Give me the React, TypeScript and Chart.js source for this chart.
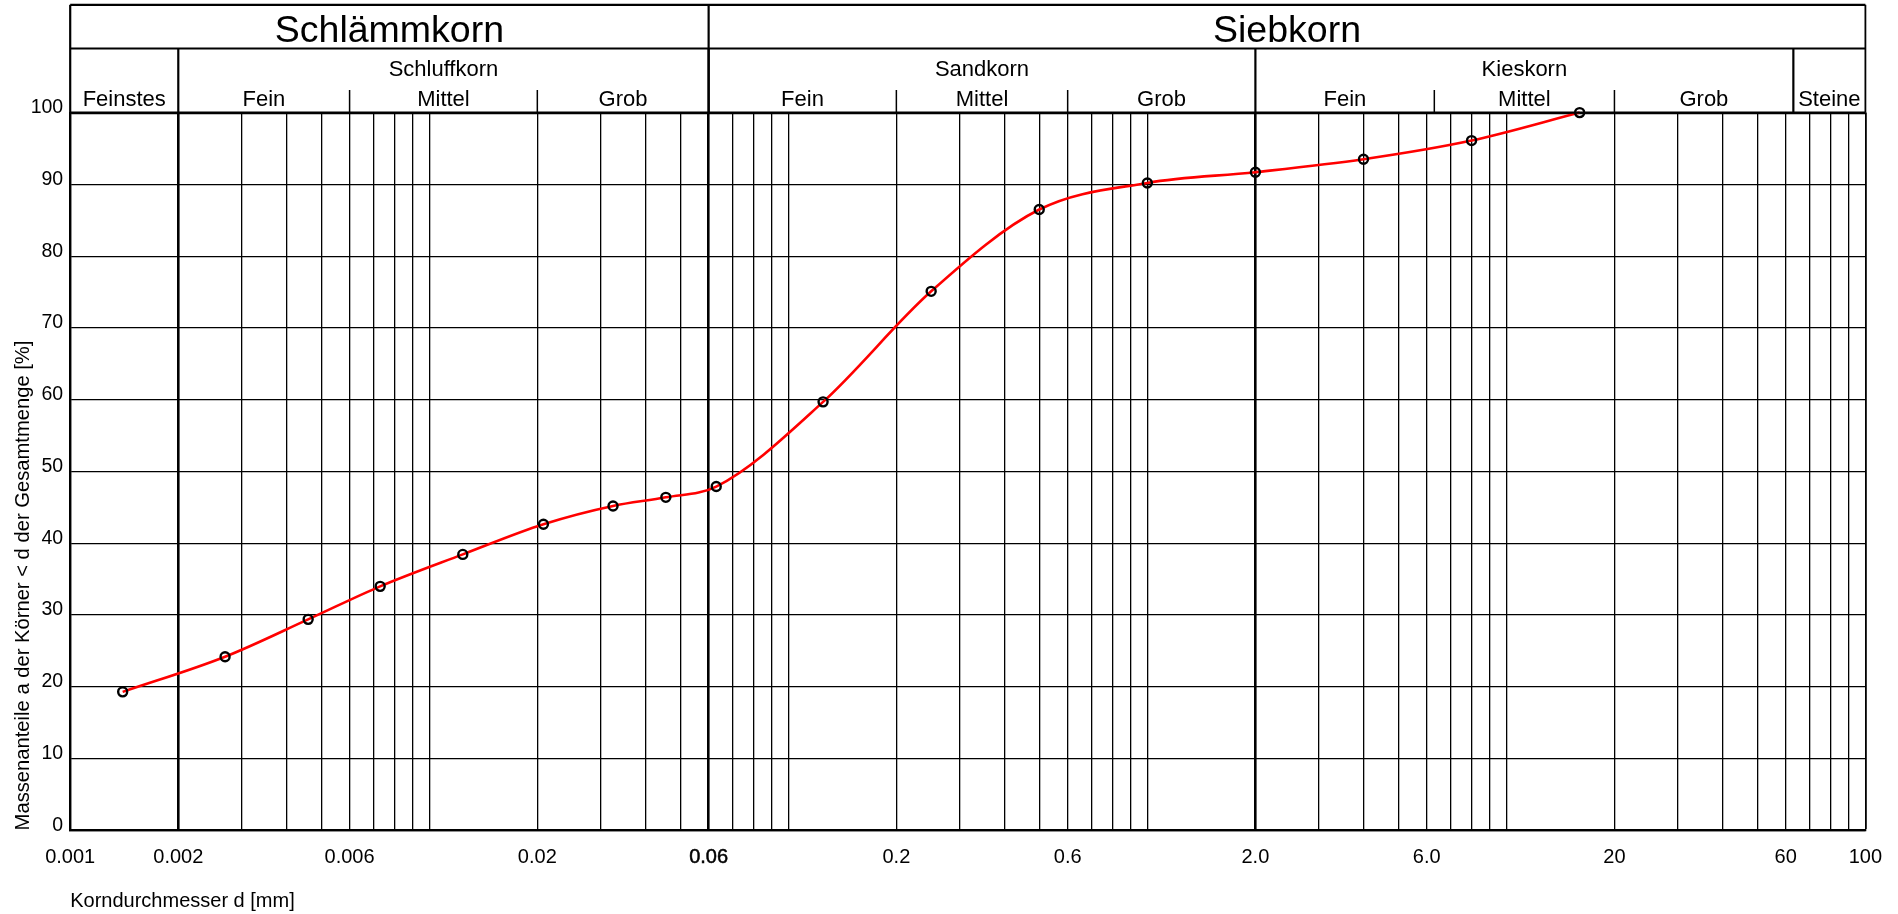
import React, { useEffect, useRef } from "react";
import { Chart, registerables } from "chart.js";

Chart.register(...registerables);

// ---- data ----
const grainSizes = [0.0014, 0.0027, 0.0046, 0.0073, 0.0124, 0.0208, 0.0325, 0.0456, 0.063, 0.125, 0.25, 0.5, 1, 2, 4, 8, 16];
const passingPercent = [19.3, 24.2, 29.4, 34.0, 38.45, 42.65, 45.2, 46.4, 47.9, 59.7, 75.1, 86.5, 90.2, 91.7, 93.5, 96.1, 100];

// ---- axis ticks ----
const xLabelValues = [0.001, 0.002, 0.006, 0.02, 0.06, 0.2, 0.6, 2, 6, 20, 60, 100];
const xLabelTexts = ["0.001", "0.002", "0.006", "0.02", "0.06", "0.2", "0.6", "2.0", "6.0", "20", "60", "100"];
const gridMantissas = [1, 2, 3, 4, 5, 6, 7, 8, 9];
const gridDecades = [-3, -2, -1, 0, 1];
const gridEnd = 100;
const thickGridValues = [0.002, 0.06, 2];

// ---- header (classification) ----
const mainLabels = ["Schlämmkorn", "Siebkorn"];
const mainBounds = [0.001, 0.06, 100];
const groupLabels = ["Schluffkorn", "Sandkorn", "Kieskorn"];
const groupBounds = [[0.002, 0.06], [0.06, 2], [2, 63]];
const singleLabels = ["Feinstes", "Steine"];
const singleBounds = [[0.001, 0.002], [63, 100]];
const subLabels = ["Fein", "Mittel", "Grob"];
const subBounds = [
  [0.002, 0.006, 0.02, 0.06],
  [0.06, 0.2, 0.6, 2],
  [2, 6.3, 20, 63],
];

const FONT = "'Liberation Sans', Arial, Helvetica, sans-serif";

const near = (a: number, b: number) => Math.abs(Math.log10(a) - Math.log10(b)) < 1e-6;

const gridValues: number[] = [];
gridDecades.forEach((e) => gridMantissas.forEach((m) => gridValues.push(Number((m * Math.pow(10, e)).toPrecision(3)))));
gridValues.push(gridEnd);

const headerPlugin = {
  id: "header",
  afterDraw(chart: any) {
    const ctx = chart.ctx as CanvasRenderingContext2D;
    const xs = chart.scales.x;
    const area = chart.chartArea;
    const X = (v: number) => xs.getPixelForValue(v);
    const top = 4.8;
    const mid = 48.4;
    const bottom = area.top;
    const subTop = 90;
    const line = (x1: number, y1: number, x2: number, y2: number, w: number) => {
      ctx.beginPath();
      ctx.lineWidth = w;
      ctx.moveTo(x1, y1);
      ctx.lineTo(x2, y2);
      ctx.stroke();
    };
    ctx.save();
    ctx.strokeStyle = "#000";
    ctx.fillStyle = "#000";
    const L = X(mainBounds[0]);
    const R = X(mainBounds[mainBounds.length - 1]);
    // outer frame
    line(L, top, R, top, 2.2);
    line(L, top, L, bottom, 2.2);
    line(R, top, R, bottom, 1.8);
    line(L, mid, R, mid, 2);
    line(L, bottom, R, bottom, 2.2);
    // main dividers
    for (let i = 1; i < mainBounds.length - 1; i++) line(X(mainBounds[i]), top, X(mainBounds[i]), bottom, 2.2);
    // group dividers
    const divs = new Set<number>();
    groupBounds.forEach((b) => { divs.add(b[0]); divs.add(b[1]); });
    singleBounds.forEach((b) => { divs.add(b[0]); divs.add(b[1]); });
    divs.forEach((v) => {
      if (v !== mainBounds[0] && v !== mainBounds[mainBounds.length - 1]) line(X(v), mid, X(v), bottom, 2.2);
    });
    // sub ticks
    subBounds.forEach((b) => {
      for (let i = 1; i < b.length - 1; i++) line(X(b[i]), subTop, X(b[i]), bottom, 1.5);
    });
    // texts
    ctx.textAlign = "center";
    ctx.textBaseline = "alphabetic";
    ctx.font = `37.5px ${FONT}`;
    mainLabels.forEach((t, i) => ctx.fillText(t, (X(mainBounds[i]) + X(mainBounds[i + 1])) / 2, 41.5));
    ctx.font = `22px ${FONT}`;
    groupLabels.forEach((t, i) => ctx.fillText(t, (X(groupBounds[i][0]) + X(groupBounds[i][1])) / 2, 76));
    singleLabels.forEach((t, i) => ctx.fillText(t, (X(singleBounds[i][0]) + X(singleBounds[i][1])) / 2, 106));
    subBounds.forEach((b) => {
      for (let i = 0; i < b.length - 1; i++) ctx.fillText(subLabels[i], (X(b[i]) + X(b[i + 1])) / 2, 106);
    });
    ctx.restore();
  },
};

export default function App() {
  const ref = useRef<HTMLCanvasElement>(null);
  useEffect(() => {
    if (!ref.current) return;
    const chart = new Chart(ref.current, {
      type: "line",
      data: {
        datasets: [
          {
            data: grainSizes.map((x, i) => ({ x, y: passingPercent[i] })),
            borderColor: "#ff0000",
            borderWidth: 2.6,
            cubicInterpolationMode: "monotone",
            pointRadius: 4.5,
            pointBorderWidth: 2.4,
            pointBorderColor: "#000",
            pointBackgroundColor: "rgba(0,0,0,0)",
            fill: false,
            clip: false as any,
          },
        ],
      },
      options: {
        responsive: false,
        devicePixelRatio: 1,
        animation: false,
        events: [],
        layout: { padding: { left: 0, top: 112.6, right: 32.6, bottom: 0 } },
        plugins: { legend: { display: false }, tooltip: { enabled: false } },
        scales: {
          x: {
            type: "logarithmic",
            min: 0.001,
            max: 100,
            afterFit: (s: any) => { s.height = 914 - 830.4; },
            afterBuildTicks: (s: any) => { s.ticks = gridValues.map((v) => ({ value: v })); },
            grid: {
              color: "#000",
              lineWidth: (c: any) => (c.tick && thickGridValues.some((t) => near(t, c.tick.value)) ? 2.6 : c.tick && near(c.tick.value, 100) ? 1.8 : 1.3),
              drawTicks: false,
            },
            border: { display: true, color: "#000", width: 2.2 },
            ticks: {
              autoSkip: false,
              maxRotation: 0,
              minRotation: 0,
              padding: 15,
              color: "#000",
              font: { family: FONT, size: 20 },
              textStrokeColor: "#000",
              textStrokeWidth: (c: any) => (c.tick && near(c.tick.value, 0.06) ? 0.5 : 0),
              callback: (value: any) => {
                const i = xLabelValues.findIndex((v) => near(v, Number(value)));
                return i >= 0 ? xLabelTexts[i] : "";
              },
            } as any,
            title: {
              display: true,
              text: "Korndurchmesser d [mm]",
              align: "start",
              color: "#000",
              font: { family: FONT, size: 20 },
              padding: { top: 0, bottom: 1 },
            },
          },
          y: {
            type: "linear",
            min: 0,
            max: 100,
            afterFit: (s: any) => { s.width = 70.2; },
            grid: { color: "#000", lineWidth: (c: any) => (c.tick && c.tick.value === 100 ? 2.2 : 1.3), drawTicks: false },
            border: { display: true, color: "#000", width: 2.2 },
            ticks: {
              stepSize: 10,
              padding: 7,
              labelOffset: -5,
              color: "#000",
              font: { family: FONT, size: 19.5 },
            },
            title: {
              display: true,
              text: "Massenanteile a der Körner < d der Gesamtmenge [%]",
              align: "start",
              color: "#000",
              font: { family: FONT, size: 20.2 },
              padding: { top: 11.5, bottom: 0 },
            },
          },
        },
      } as any,
      plugins: [headerPlugin],
    });
    return () => chart.destroy();
  }, []);
  return (
    <div style={{ position: "absolute", left: 0, top: 0, width: 1898, height: 914, background: "#fff" }}>
      <canvas ref={ref} width={1898} height={914} style={{ display: "block", width: 1898, height: 914 }} />
    </div>
  );
}
